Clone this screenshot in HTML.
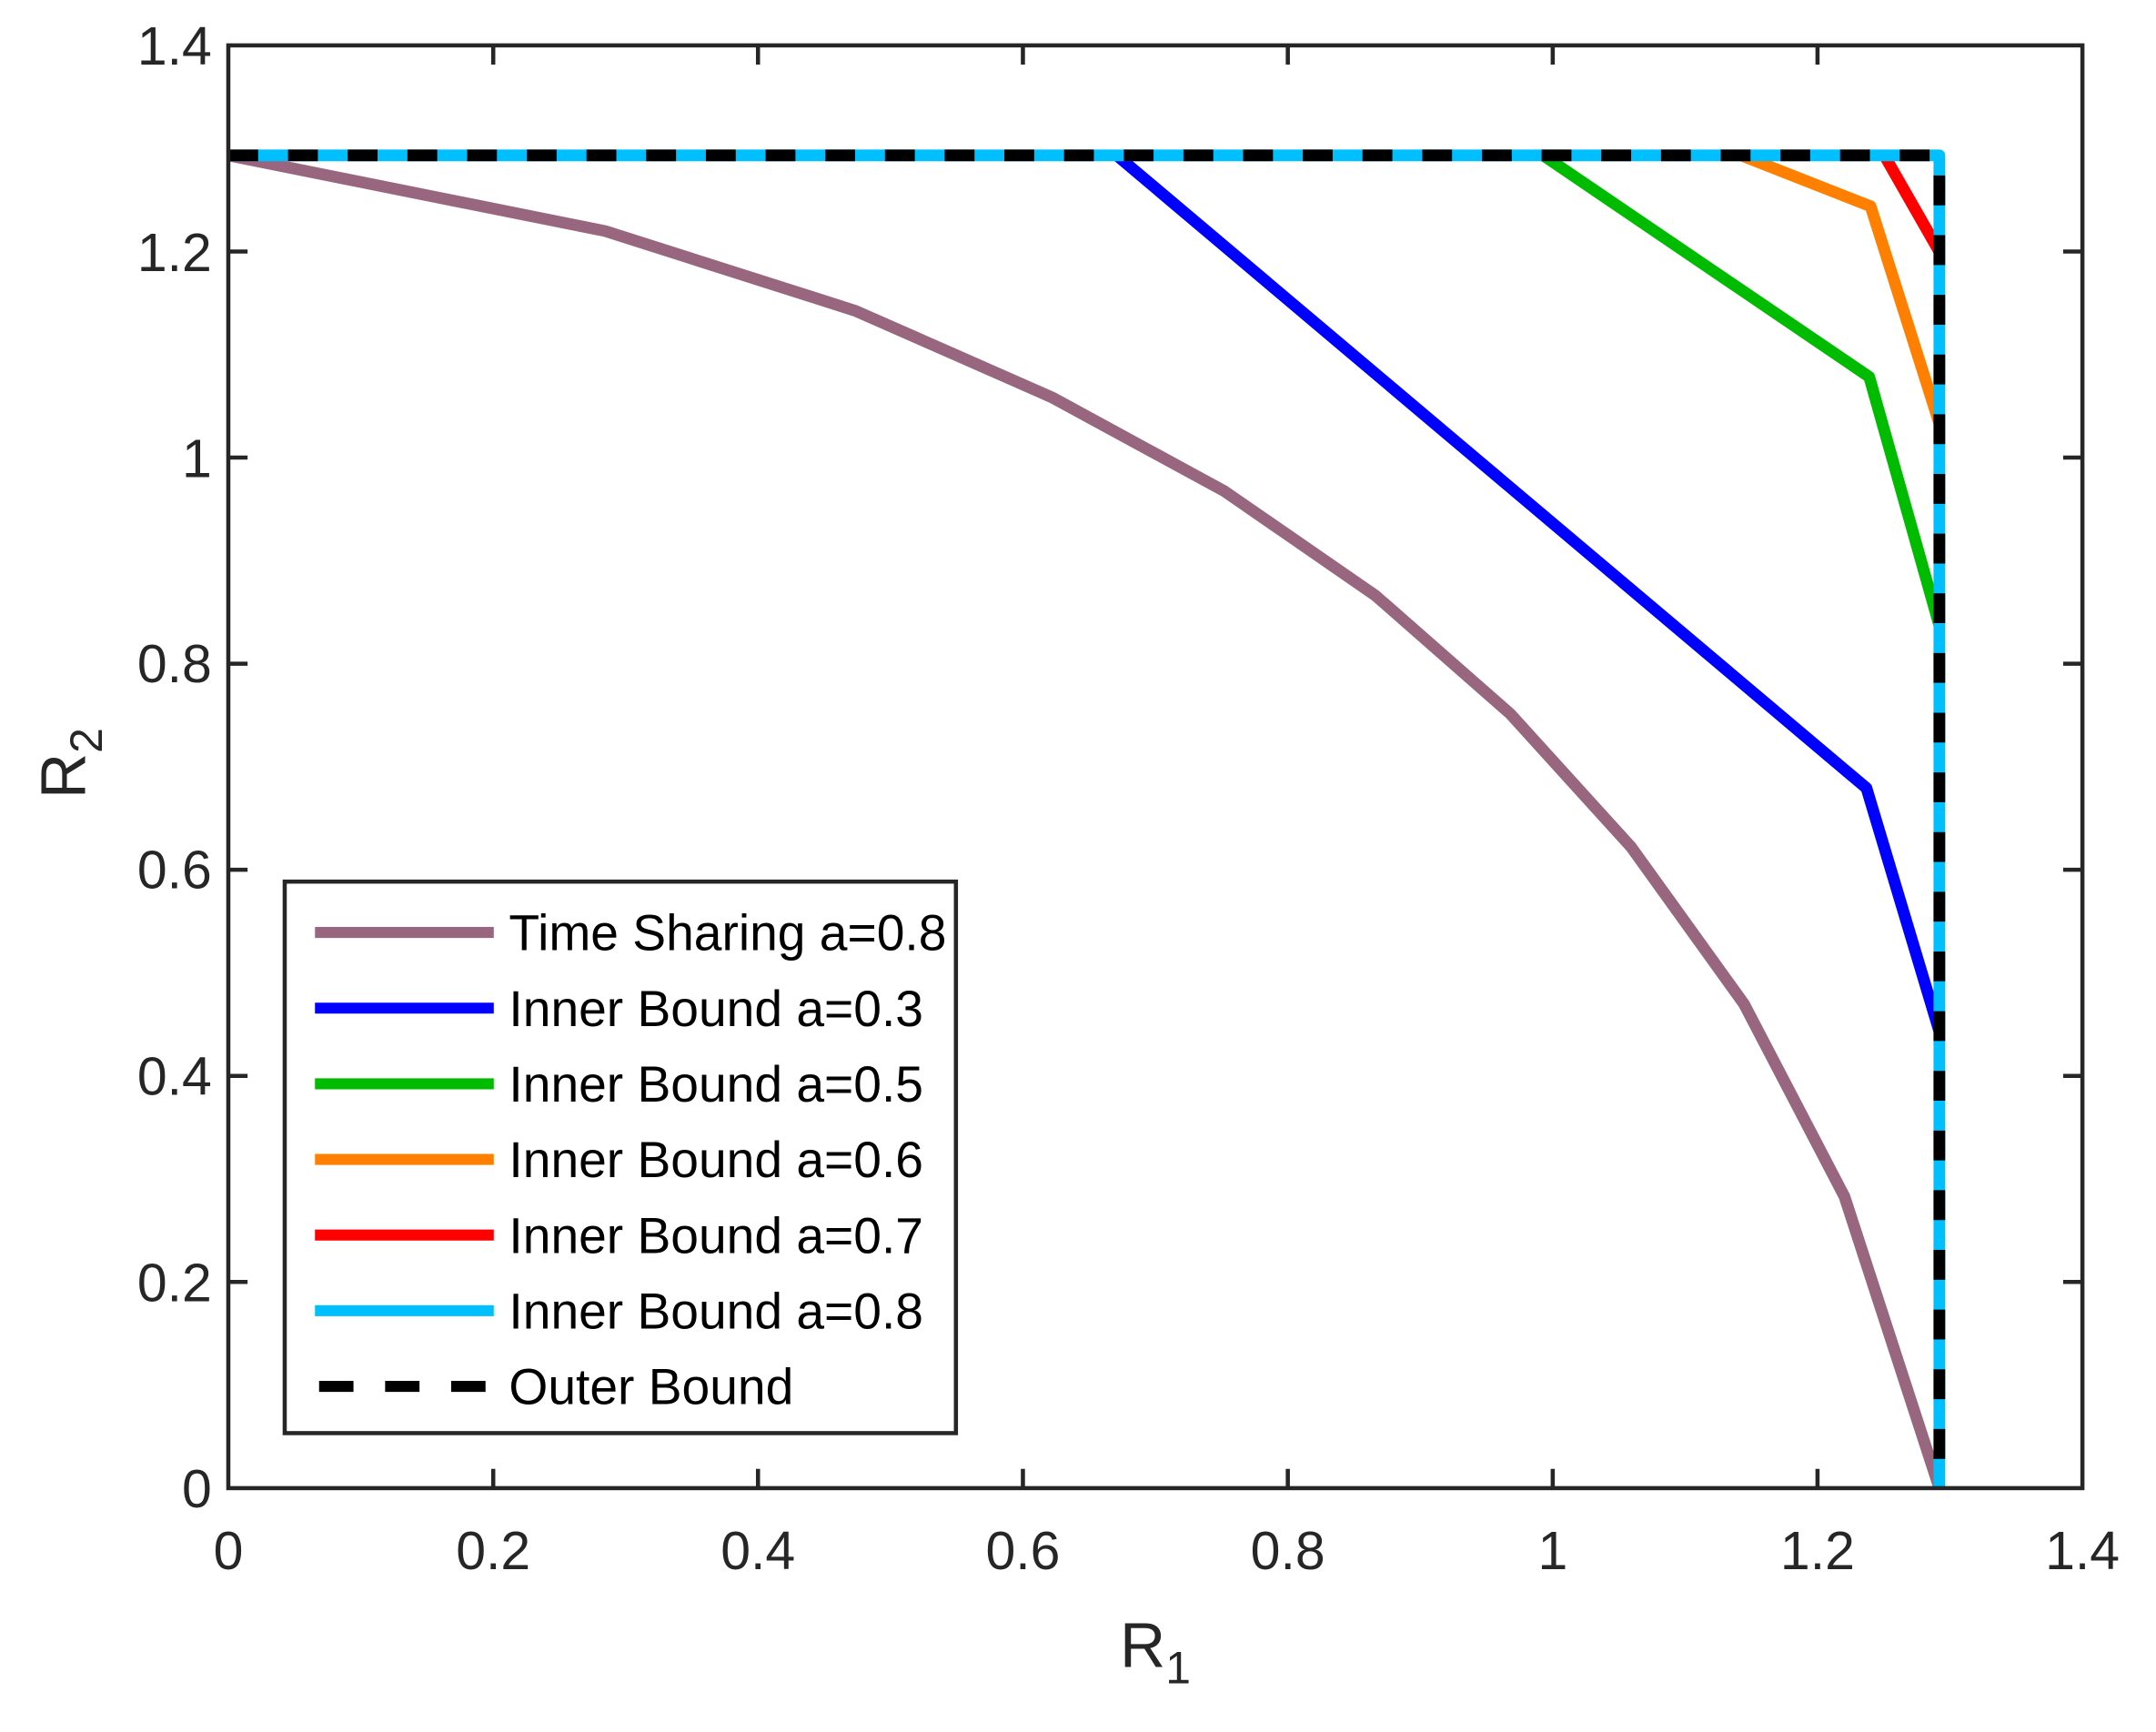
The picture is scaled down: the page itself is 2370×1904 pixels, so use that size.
<!DOCTYPE html>
<html><head><style>html,body{margin:0;padding:0;background:#fff}</style></head>
<body>
<svg width="2370" height="1899" viewBox="0 0 1567.5 1256" preserveAspectRatio="none" xmlns="http://www.w3.org/2000/svg" font-family="Liberation Sans, Arial, sans-serif">
<rect width="1567.5" height="1256" fill="#fff"/>
<g fill="none" stroke-width="8.5" stroke-linejoin="round">
<polyline stroke="#98677f" points="166,113 440,168 622,226 765,289 890,357 1000,433 1098,519 1186,616 1268,730 1341,870 1410,1082"/>
<polyline stroke="#0000ff" points="812,113 1357,573 1410,750"/>
<polyline stroke="#00bb00" points="1122,113 1359,274 1410,455"/>
<polyline stroke="#ff8000" points="1266,113 1360,150 1410,308"/>
<polyline stroke="#ff0000" points="1370,113 1410,183"/>
<polyline stroke="#00bfff" points="166,113 1410,113 1410,1082"/>
<polyline stroke="#000" stroke-dasharray="21.7 21.7" points="166,113 1410,113 1410,1082"/>
</g>
<g stroke="#262626" stroke-width="3" fill="none">
<rect x="166" y="33" width="1348" height="1049"/>
<path d="M358.6,1082v-14M551.1,1082v-14M743.7,1082v-14M936.3,1082v-14M1128.9,1082v-14M1321.4,1082v-14
M358.6,33v14M551.1,33v14M743.7,33v14M936.3,33v14M1128.9,33v14M1321.4,33v14
M166,932.1h14M166,782.3h14M166,632.4h14M166,482.6h14M166,332.7h14M166,182.9h14
M1514,932.1h-14M1514,782.3h-14M1514,632.4h-14M1514,482.6h-14M1514,332.7h-14M1514,182.9h-14"/>
</g>
<g fill="#262626" font-size="39" text-anchor="middle">
<text x="166" y="1141">0</text><text x="358.6" y="1141">0.2</text><text x="551.1" y="1141">0.4</text><text x="743.7" y="1141">0.6</text><text x="936.3" y="1141">0.8</text><text x="1128.9" y="1141">1</text><text x="1321.4" y="1141">1.2</text><text x="1514" y="1141">1.4</text>
</g>
<g fill="#262626" font-size="39" text-anchor="end">
<text x="154" y="1096">0</text><text x="154" y="946">0.2</text><text x="154" y="796">0.4</text><text x="154" y="646">0.6</text><text x="154" y="496">0.8</text><text x="154" y="347">1</text><text x="154" y="197">1.2</text><text x="154" y="47">1.4</text>
</g>
<text x="840" y="1212" font-size="46" fill="#262626" text-anchor="middle">R<tspan font-size="33" dy="12">1</tspan></text>
<text transform="translate(62,555) rotate(-90)" font-size="46" fill="#262626" text-anchor="middle">R<tspan font-size="33" dy="12">2</tspan></text>
<rect x="207" y="641" width="488" height="401" fill="#fff" stroke="#262626" stroke-width="3"/>
<g stroke-width="8">
<line x1="229" y1="678" x2="359" y2="678" stroke="#98677f"/>
<line x1="229" y1="733" x2="359" y2="733" stroke="#0000ff"/>
<line x1="229" y1="788" x2="359" y2="788" stroke="#00bb00"/>
<line x1="229" y1="843" x2="359" y2="843" stroke="#ff8000"/>
<line x1="229" y1="898" x2="359" y2="898" stroke="#ff0000"/>
<line x1="229" y1="953" x2="359" y2="953" stroke="#00bfff"/>
<line x1="232" y1="1008" x2="359" y2="1008" stroke="#000" stroke-dasharray="25 23"/>
</g>
<g font-size="36.5" fill="#000">
<text x="370" y="691">Time Sharing a=0.8</text>
<text x="370" y="746">Inner Bound a=0.3</text>
<text x="370" y="801">Inner Bound a=0.5</text>
<text x="370" y="856">Inner Bound a=0.6</text>
<text x="370" y="911">Inner Bound a=0.7</text>
<text x="370" y="966">Inner Bound a=0.8</text>
<text x="370" y="1021">Outer Bound</text>
</g>
</svg>
</body></html>
